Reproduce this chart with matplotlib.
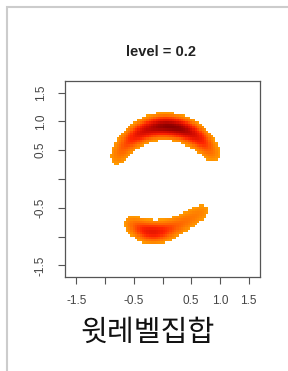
import numpy as np
import matplotlib
matplotlib.use("Agg")
import matplotlib.pyplot as plt
from matplotlib.colors import LinearSegmentedColormap
from matplotlib.patches import Rectangle

# centre line of the two bands and their weights
upper_x = [-0.81, -0.73, -0.61, -0.46, -0.30, -0.11, 0.08, 0.27, 0.45, 0.62, 0.76, 0.89]
upper_y = [0.32, 0.49, 0.64, 0.76, 0.85, 0.91, 0.92, 0.89, 0.83, 0.72, 0.59, 0.41]
upper_w = [0.30, 0.40, 0.52, 0.66, 0.80, 0.92, 1.00, 0.97, 0.88, 0.72, 0.55, 0.40]

lower_x = [-0.60, -0.45, -0.30, -0.15, 0.00, 0.15, 0.30, 0.45, 0.60, 0.75]
lower_y = [-0.74, -0.84, -0.91, -0.93, -0.91, -0.86, -0.79, -0.71, -0.62, -0.52]
lower_w = [0.30, 0.44, 0.56, 0.57, 0.50, 0.41, 0.35, 0.32, 0.30, 0.28]

level = 0.2
xticks = [-1.5, -1.0, -0.5, 0.0, 0.5, 1.0, 1.5]
xlabels = ["-1.5", "", "-0.5", "", "0.5", "1.0", "1.5"]
yticks = [-1.5, -1.0, -0.5, 0.0, 0.5, 1.0, 1.5]
ylabels = ["-1.5", "", "-0.5", "", "0.5", "1.0", "1.5"]

# density on a coarse grid
gx = np.arange(-1.7, 1.7001, 0.04)
gy = np.arange(-1.7, 1.7001, 0.04)
X, Y = np.meshgrid(gx, gy)
sig = 0.135
dens = np.zeros_like(X)
for px, py, w in zip(upper_x + lower_x, upper_y + lower_y, upper_w + lower_w):
    dens += w * np.exp(-((X - px) ** 2 + (Y - py) ** 2) / (2 * sig ** 2))
dens = dens / dens.max()
dens = np.ma.masked_less(dens, level)

cmap = LinearSegmentedColormap.from_list(
    "hc", [(0, "#ff9c00"), (0.28, "#ff6400"), (0.5, "#ff2400"),
           (0.75, "#d00a00"), (1, "#8a0000")])

fig = plt.figure(figsize=(2.88, 3.71), dpi=100)
ax = fig.add_axes([65 / 288, 1 - 277 / 371, 195 / 288, 196 / 371])
ax.pcolormesh(gx, gy, dens, cmap=cmap, vmin=level, vmax=1, shading="nearest")
ax.set_xlim(-1.7, 1.7)
ax.set_ylim(-1.7, 1.7)

ax.set_xticks(xticks)
ax.set_xticklabels(xlabels)
ax.set_yticks(yticks)
ax.set_yticklabels(ylabels, rotation=90, va="center")
ax.tick_params(direction="out", length=5, width=0.8, color="#555555",
               labelcolor="#444444", labelsize=8.5, pad=8)
for s in ax.spines.values():
    s.set_color("#555555")
    s.set_linewidth(0.9)

fig.text(161 / 288, 1 - 52 / 371, "level = 0.2", ha="center", va="center",
         fontsize=10.5, fontweight="bold", family="Liberation Sans", color="#222222")
fig.text(148 / 288, 1 - 333 / 371, "윗레벨집합", ha="center", va="center",
         fontsize=21, family=["Noto Sans CJK KR", "DejaVu Sans"], color="#111111")

fig.add_artist(Rectangle((7 / 288, -0.1), 1.2, (371 - 7) / 371 + 0.1,
                         transform=fig.transFigure, fill=False,
                         edgecolor="#cccccc", linewidth=1.5))

for t in ax.get_xticklabels() + ax.get_yticklabels():
    t.set_family("Liberation Sans")

fig.savefig("out.png", dpi=100)
